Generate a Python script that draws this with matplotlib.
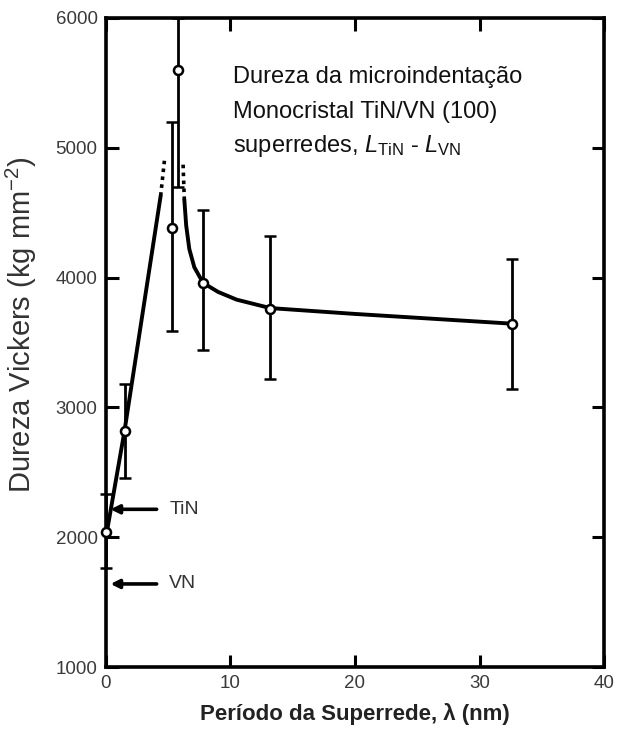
import numpy as np
import matplotlib
matplotlib.use('Agg')
import matplotlib.pyplot as plt

plt.rcParams['font.family'] = ['Liberation Sans', 'DejaVu Sans']
plt.rcParams['mathtext.fontset'] = 'custom'
plt.rcParams['mathtext.rm'] = 'Liberation Sans'
plt.rcParams['mathtext.it'] = 'Liberation Sans:italic'

# measured points (superlattice period, hardness) with error limits
periodo = [0, 1.5, 5.3, 5.8, 7.8, 13.2, 32.6]
dureza = [2040, 2820, 4380, 5600, 3960, 3760, 3640]
dureza_sup = [2330, 3180, 5200, 6000, 4520, 4320, 4140]
dureza_inf = [1760, 2460, 3590, 4700, 3440, 3220, 3140]

# trend curve drawn by hand in the original figure
curva_esq_x = [0.1, 1.5, 4.4]
curva_esq_y = [2050, 2820, 4630]
pont_esq_x = [4.4, 4.7]
pont_esq_y = [4630, 4900]
pont_dir_x = [6.2, 6.3]
pont_dir_y = [4870, 4600]
curva_dir_x = [6.3, 6.45, 6.7, 7.1, 7.8, 9.0, 10.5, 13.2, 20, 32.6]
curva_dir_y = [4600, 4400, 4220, 4080, 3960, 3890, 3830, 3765, 3720, 3645]

# reference values of the single phases
ref_nomes = ['TiN', 'VN']
ref_valores = [2215, 1640]

fig = plt.figure(figsize=(6.19, 7.33), dpi=100)
ax = fig.add_axes([0.171, 0.090, 0.805, 0.8855])

ax.plot(curva_esq_x, curva_esq_y, color='black', lw=2.8, solid_capstyle='round')
ax.plot(curva_dir_x, curva_dir_y, color='black', lw=2.8, solid_capstyle='round',
        solid_joinstyle='round')
ax.plot(pont_esq_x, pont_esq_y, color='black', lw=2.6, ls=(0, (1, 1.2)))
ax.plot(pont_dir_x, pont_dir_y, color='black', lw=2.6, ls=(0, (1, 1.2)))

y = np.array(dureza)
yerr = np.array([y - np.array(dureza_inf), np.array(dureza_sup) - y])
eb = ax.errorbar(periodo, dureza, yerr=yerr, fmt='o', color='black', ecolor='black',
                 elinewidth=2.0, capsize=4, capthick=2.0, markersize=6.5,
                 markerfacecolor='white', markeredgecolor='black', markeredgewidth=1.8,
                 zorder=3)
for art in eb.lines[0:1] + tuple(eb.lines[1]) + tuple(eb.lines[2]):
    art.set_clip_on(False)

for nome, val in zip(ref_nomes, ref_valores):
    ax.annotate('', xy=(0.15, val), xytext=(4.3, val),
                arrowprops=dict(arrowstyle='-|>,head_length=0.5,head_width=0.25',
                                color='black', lw=2.6))
    ax.text(5.1, val, nome, fontsize=14, color='#333333', va='center', ha='left')

ax.text(10.2, 5500, 'Dureza da microindentação', fontsize=17, color='#111111')
ax.text(10.2, 5230, 'Monocristal TiN/VN (100)', fontsize=17, color='#111111')
ax.text(10.2, 4970, r'superredes, $\mathit{L}_{\mathrm{TiN}}$ - $\mathit{L}_{\mathrm{VN}}$',
        fontsize=17, color='#111111')

ax.set_xlim(0, 40)
ax.set_ylim(1000, 6000)
ax.set_xticks([0, 10, 20, 30, 40])
ax.set_yticks([1000, 2000, 3000, 4000, 5000, 6000])
ax.tick_params(direction='in', length=9, width=2.2, top=True, right=True,
               labelsize=13.5, labelcolor='#3a3a3a', pad=6)
for s in ax.spines.values():
    s.set_linewidth(2.6)

ax.set_xlabel('Período da Superrede, λ (nm)', fontsize=16, fontweight='bold',
              color='#222222', labelpad=8)
ax.set_ylabel(r'Dureza Vickers (kg mm$^{-2}$)', fontsize=21, color='#333333')
ax.yaxis.set_label_coords(-0.135, 0.527)

fig.savefig('out.png', dpi=100)
